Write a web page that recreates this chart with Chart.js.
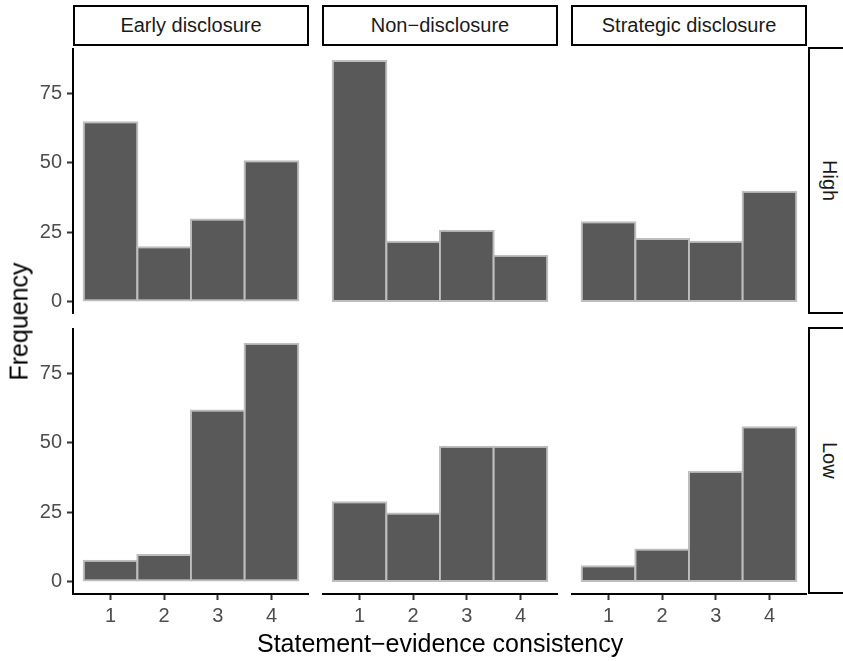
<!DOCTYPE html>
<html>
<head>
<meta charset="utf-8">
<script src="https://cdn.jsdelivr.net/npm/chart.js@4"></script>
<style>
  body { margin: 0; background: #fff; }
  #plot { position: relative; width: 843px; height: 661px; overflow: hidden; background: #fff;
          font-family: "Liberation Sans", Arial, Helvetica, sans-serif; }
  #plot canvas { position: absolute; }
  .strip { position: absolute; box-sizing: border-box; border: 2px solid #000; background: #fff;
           display: flex; align-items: center; justify-content: center;
           font-size: 20px; color: #1a1a1a; white-space: nowrap; }
  .strip.side span { writing-mode: vertical-rl; }
  .title { position: absolute; font-size: 25px; line-height: 25px; color: #000; white-space: nowrap; }
</style>
</head>
<body>
<div id="plot"></div>
<script>
// statement-evidence consistency (histogram bins)
const consistency = [1, 2, 3, 4];
const xTicks = [1, 2, 3, 4];
const yTicks = [0, 25, 50, 75];
const disclosures = ["Early disclosure", "Non\u2212disclosure", "Strategic disclosure"];
const levels = ["High", "Low"];

const highEarly = [65, 20, 30, 51];
const highNon = [87, 22, 26, 17];
const highStrategic = [29, 23, 22, 40];
const lowEarly = [8, 10, 62, 86];
const lowNon = [29, 25, 49, 49];
const lowStrategic = [6, 12, 40, 56];

const counts = [
  [highEarly, highNon, highStrategic],
  [lowEarly, lowNon, lowStrategic]
];

// panel layout
const colLeft = [73, 322, 571];
const panelW = 236;
const rowTop = [48, 328];
const panelH = 266;
const yAxisW = 73;
const xAxisH = 40;

const yMax = Math.max(...counts.flat(2));
const yPad = yMax * 0.05;
const xPad = (consistency.length) * 0.05;

const plot = document.getElementById("plot");
Chart.defaults.font.family = '"Liberation Sans", Arial, Helvetica, sans-serif';

counts.forEach((row, r) => {
  row.forEach((values, c) => {
    const showY = c === 0;
    const showX = r === counts.length - 1;
    const left = showY ? 0 : colLeft[c];
    const canvas = document.createElement("canvas");
    canvas.width = colLeft[c] + panelW - left;
    canvas.height = panelH + (showX ? xAxisH : 0);
    canvas.style.left = left + "px";
    canvas.style.top = rowTop[r] + "px";
    plot.appendChild(canvas);

    new Chart(canvas, {
      type: "bar",
      data: {
        datasets: [{
          data: consistency.map((x, i) => ({ x: x, y: values[i] })),
          backgroundColor: "#595959",
          borderColor: "#bebebe",
          borderWidth: 2,
          borderSkipped: false,
          barPercentage: 1.04,
          categoryPercentage: 1
        }]
      },
      options: {
        responsive: false,
        animation: false,
        events: [],
        layout: { padding: 0 },
        plugins: { legend: { display: false }, tooltip: { enabled: false } },
        scales: {
          x: {
            type: "linear",
            display: showX,
            min: consistency[0] - 0.5 - xPad,
            max: consistency[consistency.length - 1] + 0.5 + xPad,
            offset: false,
            afterBuildTicks: s => { s.ticks = xTicks.map(v => ({ value: v })); },
            afterFit: s => {
              if (showX) s.height = xAxisH;
              s.paddingLeft = 0; s.paddingRight = 0;
            },
            grid: { offset: false, drawOnChartArea: false, tickLength: 6, tickWidth: 2, color: "#333333" },
            border: { display: true, color: "#000", width: 2 },
            ticks: { color: "#4d4d4d", font: { size: 20 }, padding: 4, maxRotation: 0, autoSkip: false }
          },
          y: {
            type: "linear",
            display: showY,
            min: -yPad,
            max: yMax + yPad,
            afterBuildTicks: s => { s.ticks = yTicks.map(v => ({ value: v })); },
            afterFit: s => {
              if (showY) s.width = yAxisW;
              s.paddingTop = 0; s.paddingBottom = 0;
            },
            grid: { drawOnChartArea: false, tickLength: 6, tickWidth: 2, color: "#333333" },
            border: { display: true, color: "#000", width: 2 },
            ticks: { color: "#4d4d4d", font: { size: 20 }, padding: 5, autoSkip: false }
          }
        }
      }
    });
  });
});

// facet strips
disclosures.forEach((name, c) => {
  const d = document.createElement("div");
  d.className = "strip";
  d.style.left = colLeft[c] + "px";
  d.style.top = "5px";
  d.style.width = panelW + "px";
  d.style.height = "41px";
  d.textContent = name;
  plot.appendChild(d);
});
levels.forEach((name, r) => {
  const d = document.createElement("div");
  d.className = "strip side";
  d.style.left = "808px";
  d.style.top = (rowTop[r] - 1) + "px";
  d.style.width = "42px";
  d.style.height = (panelH + 1) + "px";
  const s = document.createElement("span");
  s.textContent = name;
  d.appendChild(s);
  plot.appendChild(d);
});

// axis titles
const xt = document.createElement("div");
xt.className = "title";
xt.textContent = "Statement\u2212evidence consistency";
plot.appendChild(xt);
xt.style.left = (440 - xt.offsetWidth / 2) + "px";
xt.style.top = "631px";

const yt = document.createElement("div");
yt.className = "title";
yt.textContent = "Frequency";
plot.appendChild(yt);
yt.style.left = (19 - yt.offsetWidth / 2) + "px";
yt.style.top = (321 - 12.5) + "px";
yt.style.transform = "rotate(-90deg)";
</script>
</body>
</html>
